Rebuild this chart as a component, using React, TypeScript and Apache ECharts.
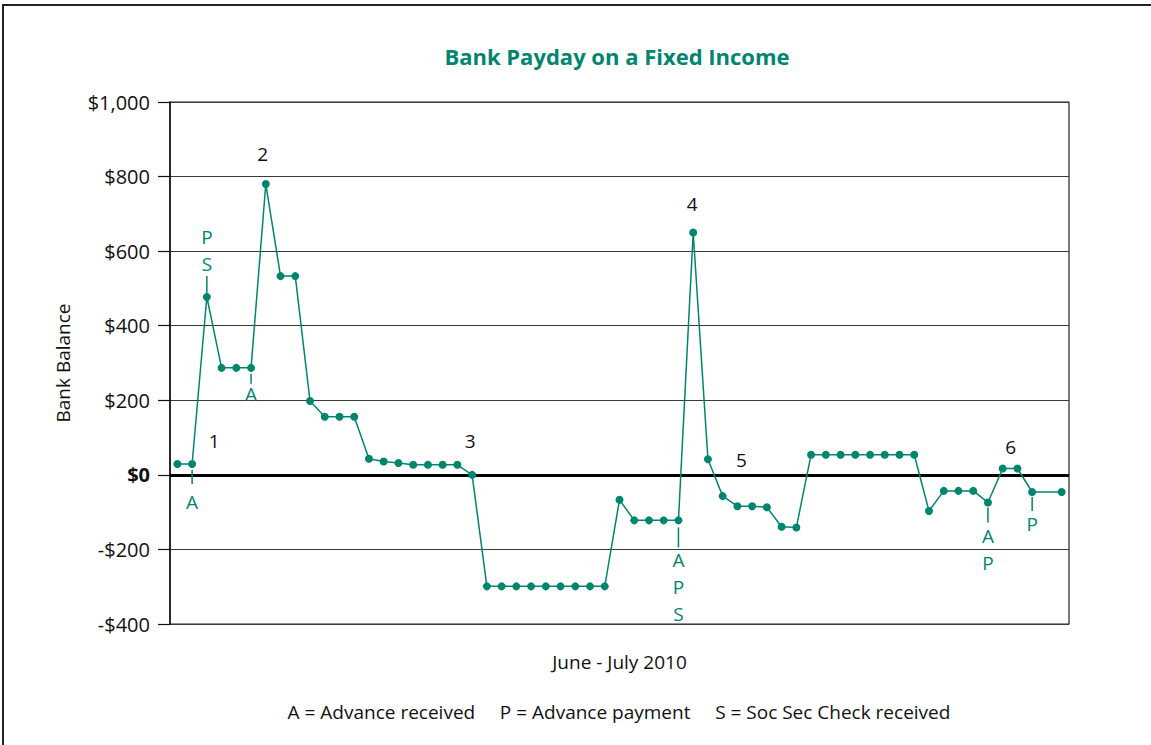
import React, { useEffect, useRef } from "react";
import * as echarts from "echarts";

const categories = [
  "Jun 1", "Jun 2", "Jun 3", "Jun 4", "Jun 5", "Jun 6", "Jun 7", "Jun 8", "Jun 9", "Jun 10",
  "Jun 11", "Jun 12", "Jun 13", "Jun 14", "Jun 15", "Jun 16", "Jun 17", "Jun 18", "Jun 19", "Jun 20",
  "Jun 21", "Jun 22", "Jun 23", "Jun 24", "Jun 25", "Jun 26", "Jun 27", "Jun 28", "Jun 29", "Jun 30",
  "Jul 1", "Jul 2", "Jul 3", "Jul 4", "Jul 5", "Jul 6", "Jul 7", "Jul 8", "Jul 9", "Jul 10",
  "Jul 11", "Jul 12", "Jul 13", "Jul 14", "Jul 15", "Jul 16", "Jul 17", "Jul 18", "Jul 19", "Jul 20",
  "Jul 21", "Jul 22", "Jul 23", "Jul 24", "Jul 25", "Jul 26", "Jul 27", "Jul 28", "Jul 29", "Jul 30",
  "Jul 31",
];

const balance: (number | null)[] = [
  29, 29, 477, 287, 287, 287, 780, 533, 533, 198,
  156, 156, 156, 43, 36, 32, 27, 27, 27, 27,
  0, -299, -299, -299, -299, -299, -299, -299, -299, -299,
  -67, -122, -122, -122, -122, 650, 42, -57, -84, -84,
  -87, -139, -141, 54, 54, 54, 54, 54, 54, 54,
  54, -97, -43, -43, -43, -74, 17, 17, -46, null,
  -46,
];

const yTicks = { min: -400, max: 1000, interval: 200 };

// event letters: index of the day, the letters, drawn above or below the point
const eventDays = [1, 2, 5, 34, 55, 58];
const eventLetters = ["A", "P\nS", "A", "A\nP\nS", "A\nP", "P"];
const eventAbove = [false, true, false, false, false, false];

// numbered call-outs
const calloutDays = [1, 6, 20, 35, 38, 56];
const calloutLabels = ["1", "2", "3", "4", "5", "6"];

const title = "Bank Payday on a Fixed Income";
const xName = "June - July 2010";
const yName = "Bank Balance";
const keyText = "A = Advance received     P = Advance payment     S = Soc Sec Check received";

// layout (pixels): tick start, tick end, first/last line text centre from the point
const eventLayout = [
  { t0: 6, t1: 20, txt: 38 },
  { t0: 4, t1: 21, txt: 33 },
  { t0: 6, t1: 16, txt: 26 },
  { t0: 7, t1: 27, txt: 40 },
  { t0: 5, t1: 20, txt: 34 },
  { t0: 5, t1: 19, txt: 32 },
];
const calloutOffsets = [
  [22, -23],
  [-3, -30],
  [-2, -34],
  [-1, -29],
  [4, -46],
  [8, -22],
];

const TEAL = "#00856f";
const FONT = "'Open Sans', 'Noto Sans', sans-serif";
const LINE_H = 27;

export default function App() {
  const ref = useRef<HTMLDivElement>(null);

  useEffect(() => {
    document.body.style.margin = "0";
    if (!ref.current) return;
    const chart = echarts.init(ref.current, null, { renderer: "svg" });

    const markData: any[] = [];
    eventDays.forEach((d, k) => {
      const L = eventLayout[k];
      const sign = eventAbove[k] ? -1 : 1;
      const len = L.t1 - L.t0;
      const mid = (L.t0 + L.t1) / 2;
      const lines = eventLetters[k].split("\n").length;
      markData.push({
        coord: [categories[d], balance[d]],
        symbol: "rect",
        symbolSize: [1.5, len],
        symbolOffset: [0, sign * mid],
        itemStyle: { color: TEAL },
        label: { show: false },
      });
      const blockCentre = sign * (L.txt + ((lines - 1) * LINE_H) / 2);
      markData.push({
        coord: [categories[d], balance[d]],
        symbol: "circle",
        symbolSize: 0,
        label: {
          show: true,
          position: "inside",
          formatter: eventLetters[k],
          offset: [0, blockCentre],
          color: TEAL,
          fontSize: 19,
          fontFamily: FONT,
          lineHeight: LINE_H,
          align: "center",
          verticalAlign: "middle",
        },
      });
    });
    calloutDays.forEach((d, k) => {
      markData.push({
        coord: [categories[d], balance[d]],
        symbol: "circle",
        symbolSize: 0,
        label: {
          show: true,
          position: "inside",
          formatter: calloutLabels[k],
          offset: calloutOffsets[k],
          color: "#111",
          fontSize: 19,
          fontFamily: FONT,
        },
      });
    });

    chart.setOption({
      animation: false,
      textStyle: { fontFamily: FONT },
      grid: {
        left: 170,
        right: 82,
        top: 102,
        bottom: 121,
        show: true,
        borderColor: "#222",
        borderWidth: 1.2,
        backgroundColor: "transparent",
      },
      graphic: [
        {
          type: "rect",
          shape: { x: 3, y: 5, width: 1300, height: 900 },
          style: { fill: "none", stroke: "#222", lineWidth: 2 },
          silent: true,
        },
        {
          type: "text",
          x: 617,
          y: 56,
          style: {
            text: title,
            fill: TEAL,
            font: `bold 22px ${FONT}`,
            textAlign: "center",
            textVerticalAlign: "middle",
          },
        },
        {
          type: "text",
          x: 619,
          y: 712,
          style: {
            text: keyText,
            fill: "#111",
            font: `19px ${FONT}`,
            textAlign: "center",
            textVerticalAlign: "middle",
          },
        },
      ],
      xAxis: {
        type: "category",
        data: categories,
        boundaryGap: true,
        axisLine: { show: false, onZero: false },
        axisTick: { show: false },
        axisLabel: { show: false },
        splitLine: { show: false },
        name: xName,
        nameLocation: "middle",
        nameGap: 28,
        nameTextStyle: { fontSize: 19, color: "#111", fontFamily: FONT },
      },
      yAxis: {
        type: "value",
        min: yTicks.min,
        max: yTicks.max,
        interval: yTicks.interval,
        axisLine: { show: true, lineStyle: { color: "#111", width: 1.5 } },
        axisTick: { show: true, length: 12, lineStyle: { color: "#111", width: 1.2 } },
        axisLabel: {
          margin: 20,
          fontSize: 20,
          color: "#111",
          fontFamily: FONT,
          formatter: (v: number) => {
            if (v === 0) return "{b|$0}";
            const s = "$" + Math.abs(v).toLocaleString("en-US");
            return v < 0 ? "-" + s : s;
          },
          rich: {
            b: { fontWeight: "bold", fontSize: 20, color: "#111", fontFamily: FONT },
          },
        },
        splitLine: { show: true, lineStyle: { color: "#3a3a3a", width: 1.2 } },
        name: yName,
        nameLocation: "middle",
        nameGap: 98,
        nameTextStyle: { fontSize: 19, color: "#111", fontFamily: FONT },
      },
      series: [
        {
          type: "line",
          data: balance,
          connectNulls: true,
          symbol: "circle",
          symbolSize: 8,
          showSymbol: true,
          lineStyle: { color: TEAL, width: 1.5 },
          itemStyle: { color: TEAL },
          z: 5,
          markLine: {
            silent: true,
            symbol: ["none", "none"],
            label: { show: false },
            lineStyle: { color: "#000", width: 3, type: "solid" },
            data: [{ yAxis: 0 }],
            z: 3,
          },
          markPoint: {
            silent: true,
            data: markData,
          },
        },
      ],
    });

    return () => chart.dispose();
  }, []);

  return <div ref={ref} style={{ width: 1151, height: 745 }} />;
}
